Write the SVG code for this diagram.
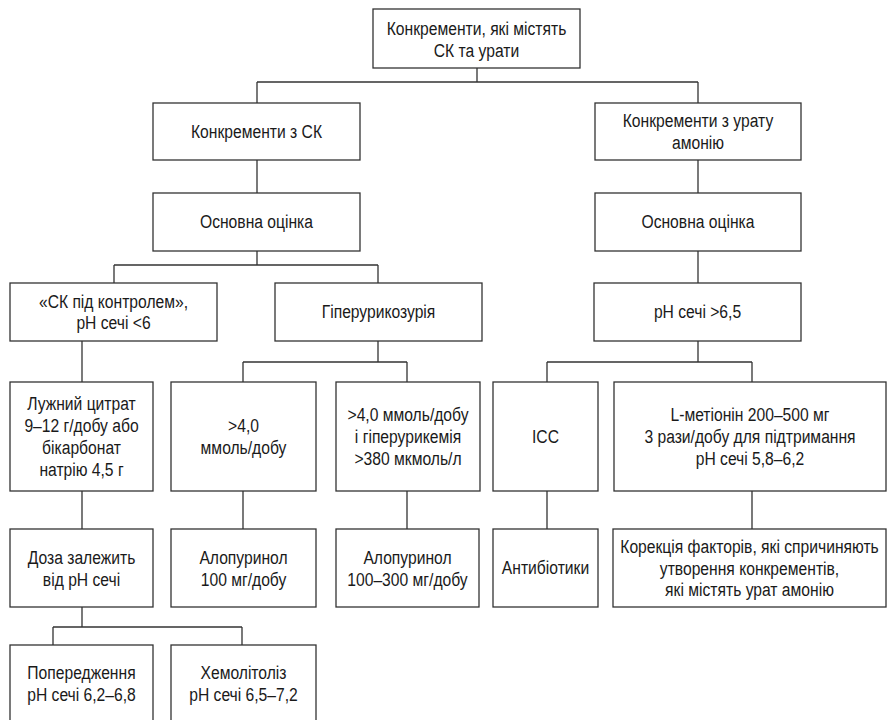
<svg xmlns="http://www.w3.org/2000/svg" width="888" height="720" viewBox="0 0 888 720">
<style>
.box{fill:#fff;stroke:#333;stroke-width:1.3}
.conn path{fill:none;stroke:#333;stroke-width:1.3}
text{font-family:"Liberation Sans",Arial,sans-serif;font-size:18px;fill:#1a1a1a;text-anchor:middle}
</style>
<rect width="888" height="720" fill="#fff"/>
<g class="conn" id="connectors">
<path d="M477,68V82M257,82H698M257,82V103M698,82V103"/>
<path d="M257,160V193M698,160V193"/>
<path d="M257,251V265M114,265H378M114,265V283M378,265V283"/>
<path d="M698,251V283"/>
<path d="M82,341V382"/>
<path d="M378,341V362M243,362H407M243,362V382M407,362V382"/>
<path d="M698,341V362M547,362H752M547,362V382M752,362V382"/>
<path d="M82,491V529M243,491V529M407,491V529M547,491V529M752,491V529"/>
<path d="M82,607V627M53,627H242M53,627V645M242,627V645"/>
</g>
<g id="n1"><rect class="box" x="373" y="9" width="207" height="59"/>
<text transform="translate(476.5 0) scale(0.87 1)"><tspan x="0" y="35.5">Конкременти, які містять</tspan><tspan x="0" y="57">СК та урати</tspan></text></g>
<g id="n2"><rect class="box" x="153" y="103" width="207" height="57"/>
<text transform="translate(256.5 0) scale(0.87 1)"><tspan x="0" y="138">Конкременти з СК</tspan></text></g>
<g id="n3"><rect class="box" x="595" y="103" width="206" height="57"/>
<text transform="translate(698 0) scale(0.87 1)"><tspan x="0" y="127">Конкременти з урату</tspan><tspan x="0" y="148.8">амонію</tspan></text></g>
<g id="n4"><rect class="box" x="153" y="193" width="207" height="58"/>
<text transform="translate(256.5 0) scale(0.87 1)"><tspan x="0" y="228.5">Основна оцінка</tspan></text></g>
<g id="n5"><rect class="box" x="595" y="193" width="206" height="58"/>
<text transform="translate(698 0) scale(0.87 1)"><tspan x="0" y="228.5">Основна оцінка</tspan></text></g>
<g id="n6"><rect class="box" x="10" y="283" width="207" height="58"/>
<text transform="translate(113.5 0) scale(0.87 1)"><tspan x="0" y="307.7">«СК під контролем»,</tspan><tspan x="0" y="329.4">pH сечі &lt;6</tspan></text></g>
<g id="n7"><rect class="box" x="275" y="283" width="207" height="58"/>
<text transform="translate(378.5 0) scale(0.87 1)"><tspan x="0" y="318.5">Гіперурикозурія</tspan></text></g>
<g id="n8"><rect class="box" x="594" y="283" width="207" height="58"/>
<text transform="translate(697.5 0) scale(0.87 1)"><tspan x="0" y="318.5">pH сечі &gt;6,5</tspan></text></g>
<g id="n9"><rect class="box" x="10" y="382" width="143" height="109"/>
<text transform="translate(81.5 0) scale(0.87 1)"><tspan x="0" y="410.4">Лужний цитрат</tspan><tspan x="0" y="432.2">9–12 г/добу або</tspan><tspan x="0" y="453.9">бікарбонат</tspan><tspan x="0" y="475.6">натрію 4,5 г</tspan></text></g>
<g id="n10"><rect class="box" x="171" y="382" width="145" height="109"/>
<text transform="translate(243.5 0) scale(0.87 1)"><tspan x="0" y="432.2">&gt;4,0</tspan><tspan x="0" y="453.9">ммоль/добу</tspan></text></g>
<g id="n11"><rect class="box" x="336" y="382" width="144" height="109"/>
<text transform="translate(408 0) scale(0.87 1)"><tspan x="0" y="421.3">&gt;4,0 ммоль/добу</tspan><tspan x="0" y="443">і гіперурикемія</tspan><tspan x="0" y="464.7">&gt;380 мкмоль/л</tspan></text></g>
<g id="n12"><rect class="box" x="493" y="382" width="105" height="109"/>
<text transform="translate(545.5 0) scale(0.87 1)"><tspan x="0" y="443">ICC</tspan></text></g>
<g id="n13"><rect class="box" x="614" y="382" width="272" height="109"/>
<text transform="translate(750 0) scale(0.87 1)"><tspan x="0" y="421.3">L-метіонін 200–500 мг</tspan><tspan x="0" y="443">3 рази/добу для підтримання</tspan><tspan x="0" y="464.7">pH сечі 5,8–6,2</tspan></text></g>
<g id="n14"><rect class="box" x="10" y="529" width="143" height="78"/>
<text transform="translate(81.5 0) scale(0.87 1)"><tspan x="0" y="564.2">Доза залежить</tspan><tspan x="0" y="585.9">від pH сечі</tspan></text></g>
<g id="n15"><rect class="box" x="171" y="529" width="145" height="78"/>
<text transform="translate(243.5 0) scale(0.87 1)"><tspan x="0" y="564.2">Алопуринол</tspan><tspan x="0" y="585.9">100 мг/добу</tspan></text></g>
<g id="n16"><rect class="box" x="336" y="529" width="143" height="78"/>
<text transform="translate(407.5 0) scale(0.87 1)"><tspan x="0" y="564.2">Алопуринол</tspan><tspan x="0" y="585.9">100–300 мг/добу</tspan></text></g>
<g id="n17"><rect class="box" x="493" y="529" width="105" height="78"/>
<text transform="translate(545.5 0) scale(0.87 1)"><tspan x="0" y="574.5">Антибіотики</tspan></text></g>
<g id="n18"><rect class="box" x="613" y="529" width="273" height="78"/>
<text transform="translate(749.5 0) scale(0.87 1)"><tspan x="0" y="553">Корекція факторів, які спричиняють</tspan><tspan x="0" y="574.7">утворення конкрементів,</tspan><tspan x="0" y="596.4">які містять урат амонію</tspan></text></g>
<g id="n19"><rect class="box" x="10" y="645" width="143" height="80"/>
<text transform="translate(81.5 0) scale(0.87 1)"><tspan x="0" y="679.5">Попередження</tspan><tspan x="0" y="701.5">pH сечі 6,2–6,8</tspan></text></g>
<g id="n20"><rect class="box" x="171" y="645" width="145" height="80"/>
<text transform="translate(243.5 0) scale(0.87 1)"><tspan x="0" y="679.5">Хемолітоліз</tspan><tspan x="0" y="701.5">pH сечі 6,5–7,2</tspan></text></g>
</svg>
